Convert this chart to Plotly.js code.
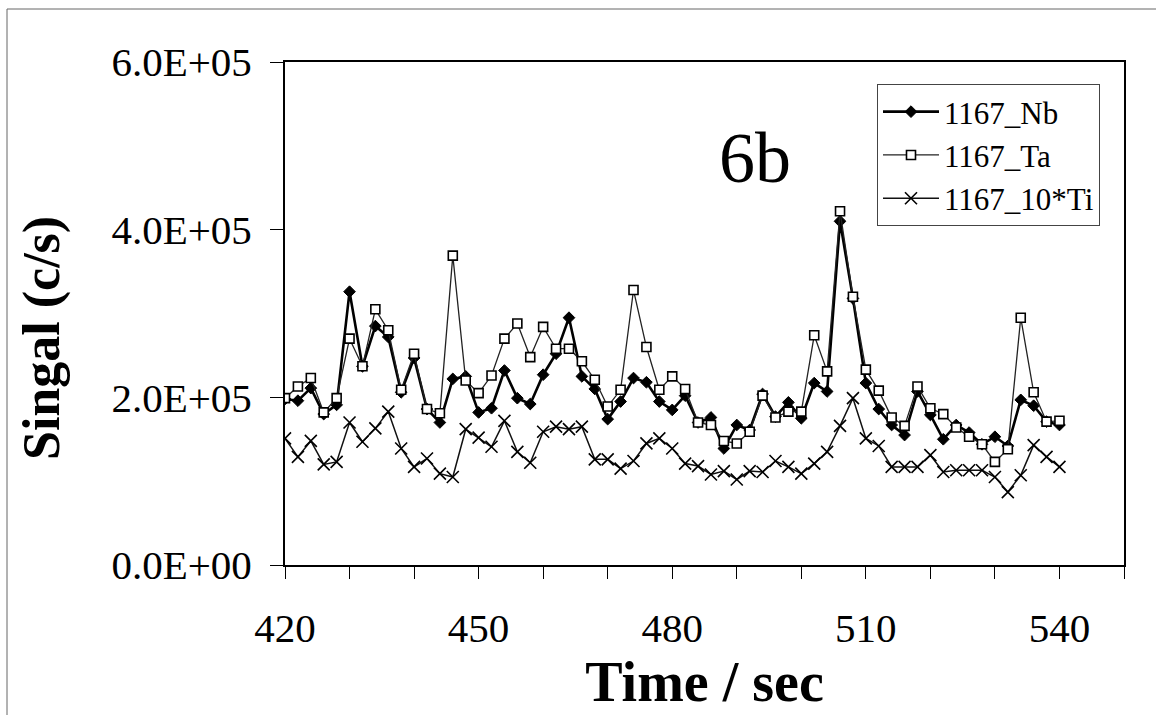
<!DOCTYPE html>
<html>
<head>
<meta charset="utf-8">
<script src="https://cdn.plot.ly/plotly-3.0.1.min.js"></script>
<style>
html,body{margin:0;padding:0;background:#fff;}
#chart{width:1156px;height:715px;}
</style>
</head>
<body>
<div id="chart"></div>
<script>
// Time (sec) of each sample
const timeSec = [420,422,424,426,428,430,432,434,436,438,440,442,444,446,448,450,452,454,456,458,
  460,462,464,466,468,470,472,474,476,478,480,482,484,486,488,490,492,494,496,498,
  500,502,504,506,508,510,512,514,516,518,520,522,524,526,528,530,532,534,536,538,540];

// Signals (c/s)
const nb = [198000,196000,211000,180000,191000,326000,237000,285000,272000,206000,
  247000,186000,170000,222000,225000,182000,187000,232000,199000,192000,
  227000,252000,295000,225000,210000,174000,195000,223000,218000,195000,
  185000,202000,170000,176000,139000,167000,161000,204000,177000,194000,
  175000,217000,207000,410000,318000,217000,186000,167000,155000,207000,
  179000,150000,167000,158000,144000,153000,142000,197000,190000,171000,167000];

const ta = [199000,213000,223000,182000,199000,270000,237000,305000,280000,209000,
  252000,186000,181000,369000,220000,205000,226000,270000,288000,248000,
  284000,258000,258000,243000,221000,189000,209000,328000,260000,209000,
  225000,210000,170000,167000,148000,145000,159000,202000,176000,183000,
  183000,274000,231000,422000,320000,233000,208000,176000,166000,213000,
  187000,180000,164000,153000,144000,123000,138000,295000,206000,171000,172000];

const ti10 = [151000,129000,148000,120000,123000,170000,147000,163000,183000,139000,
  117000,127000,109000,105000,162000,152000,141000,172000,135000,122000,
  159000,165000,162000,165000,126000,126000,115000,124000,145000,151000,
  139000,121000,118000,108000,112000,102000,112000,111000,124000,117000,
  109000,121000,135000,166000,199000,151000,142000,117000,117000,117000,
  131000,111000,113000,113000,113000,105000,87000,107000,143000,129000,117000];

const seriesNames = ['1167_Nb','1167_Ta','1167_10*Ti'];
const xTickVals = [420,450,480,510,540];
const xTickText = ['420','450','480','510','540'];
const yTickVals = [0,200000,400000,600000];
const yTickText = ['0.0E+00','2.0E+05','4.0E+05','6.0E+05'];

const serif = 'Liberation Serif, Times New Roman, serif';

const traces = [
  {x: timeSec, y: nb, name: seriesNames[0], type: 'scatter', mode: 'lines+markers',
   line: {color: '#000', width: 2.6},
   marker: {symbol: 'diamond', size: 9, color: '#000', line: {color: '#000', width: 1}}},
  {x: timeSec, y: ta, name: seriesNames[1], type: 'scatter', mode: 'lines+markers',
   line: {color: '#222', width: 1.3},
   marker: {symbol: 'square', size: 9, color: '#fff', line: {color: '#000', width: 1.6}}},
  {x: timeSec, y: ti10, name: seriesNames[2], type: 'scatter', mode: 'lines+markers',
   line: {color: '#111', width: 1.5},
   marker: {symbol: 'x-thin-open', size: 12, color: '#000', line: {color: '#000', width: 1.6}}}
];

const L = 285, R = 1124, T = 62, B = 565;
const W = R - L, H = B - T;
const px = v => (v - L) / W;
const py = v => (B - v) / H;

const layout = {
  width: 1156, height: 715,
  margin: {l: L, r: 1156 - R, t: T, b: 715 - B},
  paper_bgcolor: '#fff', plot_bgcolor: '#fff',
  font: {family: serif, color: '#000'},
  showlegend: true,
  legend: {
    x: px(877), y: py(84), xanchor: 'left', yanchor: 'top',
    bgcolor: '#fff', bordercolor: '#444', borderwidth: 1,
    font: {family: serif, size: 31, color: '#000'},
    itemwidth: 56,
    tracegroupgap: 0
  },
  xaxis: {
    range: [420, 550],
    tickmode: 'array', tickvals: xTickVals, ticktext: xTickText,
    ticks: 'outside', ticklen: 12, tickwidth: 1, tickcolor: '#000',
    minor: {tickmode: 'linear', tick0: 420, dtick: 10, ticks: 'outside', ticklen: 12, tickwidth: 1, tickcolor: '#000', showgrid: false},
    tickfont: {family: serif, size: 41, color: '#000'},
    ticklabelstandoff: 14,
    showline: true, linecolor: '#000', linewidth: 2, mirror: true,
    showgrid: false, zeroline: false,
    title: {text: '<b>Time / sec</b>', font: {family: serif, size: 56, color: '#000'}, standoff: 8}
  },
  yaxis: {
    range: [0, 600000],
    tickmode: 'array', tickvals: yTickVals, ticktext: yTickText,
    ticks: 'outside', ticklen: 13, tickwidth: 1, tickcolor: '#000',
    tickfont: {family: serif, size: 41, color: '#000'},
    ticklabelstandoff: 10,
    showline: true, linecolor: '#000', linewidth: 2, mirror: true,
    showgrid: false, zeroline: false
  },
  annotations: [
    {text: '<b>Singal (c/s)</b>', xref: 'paper', yref: 'paper', x: px(42), y: py(338),
     xanchor: 'center', yanchor: 'middle', textangle: -90, showarrow: false,
     font: {family: serif, size: 52, color: '#000'}},
    {text: '6b', xref: 'paper', yref: 'paper', x: px(755), y: py(158),
     xanchor: 'center', yanchor: 'middle', showarrow: false,
     font: {family: serif, size: 72, color: '#000'}}
  ],
  shapes: [
    {type: 'rect', xref: 'paper', yref: 'paper', x0: px(7), x1: px(1160), y0: py(720), y1: py(9),
     line: {color: '#666', width: 1}, fillcolor: 'rgba(0,0,0,0)', layer: 'below'}
  ]
};

Plotly.newPlot('chart', traces, layout, {displayModeBar: false, staticPlot: true});
</script>
</body>
</html>
